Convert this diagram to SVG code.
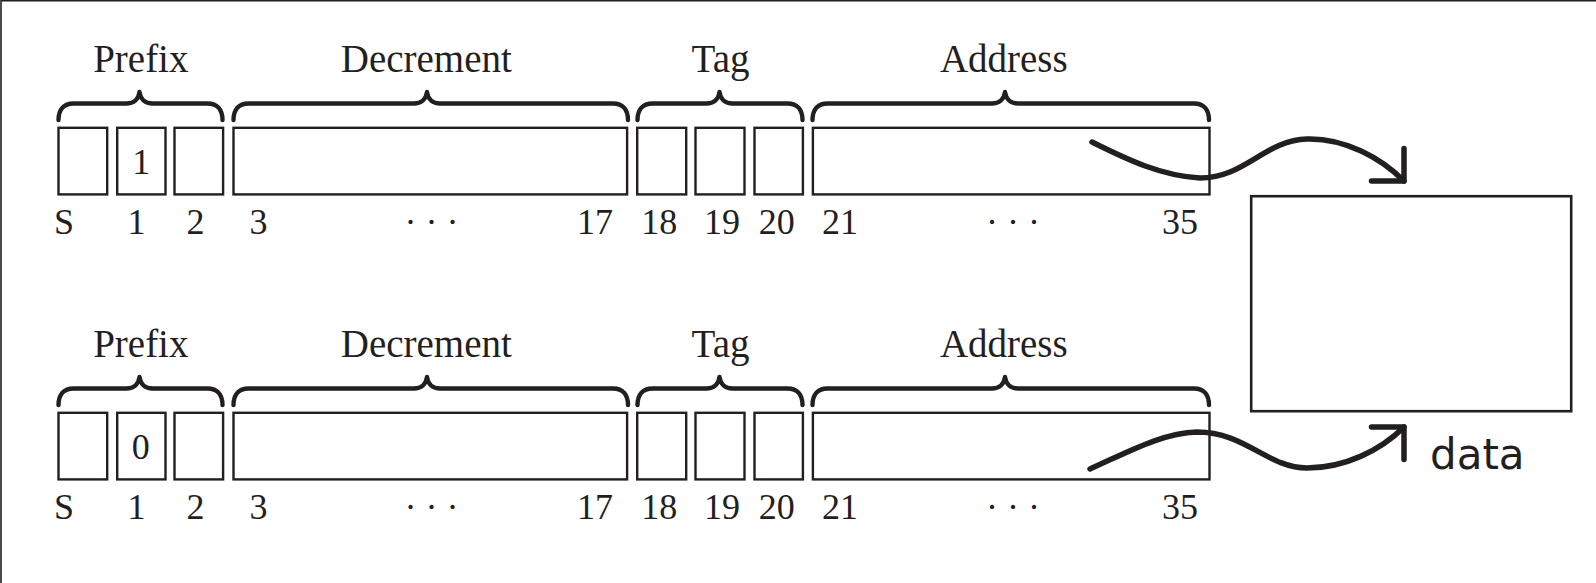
<svg xmlns="http://www.w3.org/2000/svg" width="1596" height="583" viewBox="0 0 1596 583">
<style>
.box{fill:none;stroke:#231f20;stroke-width:2.4}
.brace{fill:none;stroke:#231f20;stroke-width:4.4;stroke-linecap:round;stroke-linejoin:round}
.title{font-family:"Liberation Serif","DejaVu Serif",serif;font-size:39px;fill:#231f20;text-anchor:middle}
.num{font-family:"Liberation Serif","DejaVu Serif",serif;font-size:36px;fill:#231f20;text-anchor:middle}
.dots{font-family:"Liberation Serif","DejaVu Serif",serif;font-size:36px;fill:#231f20;text-anchor:middle}
.conn{fill:none;stroke:#231f20;stroke-width:5.5;stroke-linecap:round;marker-end:url(#ah)}
.lbl{font-family:"DejaVu Sans","Liberation Sans",sans-serif;font-size:42px;fill:#231f20}
</style>
<defs>
<marker id="ah" markerUnits="userSpaceOnUse" viewBox="-30 -30 60 60" markerWidth="60" markerHeight="60" refX="0" refY="0" orient="auto" overflow="visible">
<path d="M-23,-23 L0,0 L-23,23" fill="none" stroke="#231f20" stroke-width="5.5" stroke-linecap="round" stroke-linejoin="round"/>
</marker>
</defs>
<rect width="1596" height="583" fill="#fff"/>
<path d="M1,583 V0.8 H1596" fill="none" stroke="#231f20" stroke-width="1.6"/>

<!-- Row 1 -->
<g id="row1">
<g id="r1-prefix">
<text class="title" x="140.8" y="71.7">Prefix</text>
<path class="brace" d="M58.5,120 C58.5,110 63.5,103.5 73.5,103.5 H126.5 C133.5,103.5 138.5,99.5 139.5,92 C140.5,99.5 145.5,103.5 152.5,103.5 H207.5 C217.5,103.5 222.5,110 222.5,120"/>
<rect class="box" x="58.5" y="127.8" width="48.7" height="66.6"/>
<rect class="box" x="117.2" y="127.8" width="48.3" height="66.6"/>
<rect class="box" x="174.5" y="127.8" width="48.6" height="66.6"/>
<text class="num" x="141.3" y="174">1</text>
<text class="num" x="64" y="234">S</text>
<text class="num" x="136.5" y="234">1</text>
<text class="num" x="195.5" y="234">2</text>
</g>
<g id="r1-decrement">
<text class="title" x="426.3" y="71.7">Decrement</text>
<path class="brace" d="M233.5,120 C233.5,110 238.5,103.5 248.5,103.5 H414 C421,103.5 426,99.5 427,92 C428,99.5 433,103.5 440,103.5 H613 C623,103.5 628,110 628,120"/>
<rect class="box" x="233.5" y="127.8" width="393.6" height="66.6"/>
<text class="num" x="258.5" y="234">3</text>
<text class="dots" x="431.5" y="234">· · ·</text>
<text class="num" x="595" y="234">17</text>
</g>
<g id="r1-tag">
<text class="title" x="720.5" y="71.7">Tag</text>
<path class="brace" d="M637.5,120 C637.5,110 642.5,103.5 652.5,103.5 H706.5 C713.5,103.5 718.5,99.5 719.5,92 C720.5,99.5 725.5,103.5 732.5,103.5 H787.5 C797.5,103.5 802.5,110 802.5,120"/>
<rect class="box" x="637.2" y="127.8" width="49" height="66.6"/>
<rect class="box" x="695.5" y="127.8" width="49" height="66.6"/>
<rect class="box" x="754.5" y="127.8" width="48.4" height="66.6"/>
<text class="num" x="659.2" y="234">18</text>
<text class="num" x="722" y="234">19</text>
<text class="num" x="776.7" y="234">20</text>
</g>
<g id="r1-address">
<text class="title" x="1003.8" y="71.7">Address</text>
<path class="brace" d="M812.5,120 C812.5,110 817.5,103.5 827.5,103.5 H992 C999,103.5 1004,99.5 1005,92 C1006,99.5 1011,103.5 1018,103.5 H1194 C1204,103.5 1209,110 1209,120"/>
<rect class="box" x="812.9" y="127.8" width="396.6" height="66.6"/>
<text class="num" x="840" y="234">21</text>
<text class="dots" x="1013" y="234">· · ·</text>
<text class="num" x="1180" y="234">35</text>
</g>
</g>

<!-- Row 2 -->
<g id="row2">
<g id="r2-prefix">
<text class="title" x="140.8" y="356.7">Prefix</text>
<path class="brace" d="M58.5,405 C58.5,395 63.5,388.5 73.5,388.5 H126.5 C133.5,388.5 138.5,384.5 139.5,377 C140.5,384.5 145.5,388.5 152.5,388.5 H207.5 C217.5,388.5 222.5,395 222.5,405"/>
<rect class="box" x="58.5" y="412.8" width="48.7" height="66.6"/>
<rect class="box" x="117.2" y="412.8" width="48.3" height="66.6"/>
<rect class="box" x="174.5" y="412.8" width="48.6" height="66.6"/>
<text class="num" x="140.8" y="459">0</text>
<text class="num" x="64" y="519">S</text>
<text class="num" x="136.5" y="519">1</text>
<text class="num" x="195.5" y="519">2</text>
</g>
<g id="r2-decrement">
<text class="title" x="426.3" y="356.7">Decrement</text>
<path class="brace" d="M233.5,405 C233.5,395 238.5,388.5 248.5,388.5 H414 C421,388.5 426,384.5 427,377 C428,384.5 433,388.5 440,388.5 H613 C623,388.5 628,395 628,405"/>
<rect class="box" x="233.5" y="412.8" width="393.6" height="66.6"/>
<text class="num" x="258.5" y="519">3</text>
<text class="dots" x="431.5" y="519">· · ·</text>
<text class="num" x="595" y="519">17</text>
</g>
<g id="r2-tag">
<text class="title" x="720.5" y="356.7">Tag</text>
<path class="brace" d="M637.5,405 C637.5,395 642.5,388.5 652.5,388.5 H706.5 C713.5,388.5 718.5,384.5 719.5,377 C720.5,384.5 725.5,388.5 732.5,388.5 H787.5 C797.5,388.5 802.5,395 802.5,405"/>
<rect class="box" x="637.2" y="412.8" width="49" height="66.6"/>
<rect class="box" x="695.5" y="412.8" width="49" height="66.6"/>
<rect class="box" x="754.5" y="412.8" width="48.4" height="66.6"/>
<text class="num" x="659.2" y="519">18</text>
<text class="num" x="722" y="519">19</text>
<text class="num" x="776.7" y="519">20</text>
</g>
<g id="r2-address">
<text class="title" x="1003.8" y="356.7">Address</text>
<path class="brace" d="M812.5,405 C812.5,395 817.5,388.5 827.5,388.5 H992 C999,388.5 1004,384.5 1005,377 C1006,384.5 1011,388.5 1018,388.5 H1194 C1204,388.5 1209,395 1209,405"/>
<rect class="box" x="812.9" y="412.8" width="396.6" height="66.6"/>
<text class="num" x="840" y="519">21</text>
<text class="dots" x="1013" y="519">· · ·</text>
<text class="num" x="1180" y="519">35</text>
</g>
</g>

<g id="data">
<rect x="1251.2" y="196.2" width="320" height="215" fill="none" stroke="#231f20" stroke-width="2.6"/>
<text class="lbl" x="1430" y="468.5">data</text>
</g>

<g id="connectors">
<path class="conn" d="M1092,142 C1128,160 1162,176 1200,178 C1245,178 1265,140 1307,139 C1345,138 1381,158 1404,181"/>
<path class="conn" d="M1090,469 C1128,452 1162,433 1197,432 C1245,432 1268,468 1307,468 C1345,468 1381,450 1404,427"/>
</g>
</svg>
